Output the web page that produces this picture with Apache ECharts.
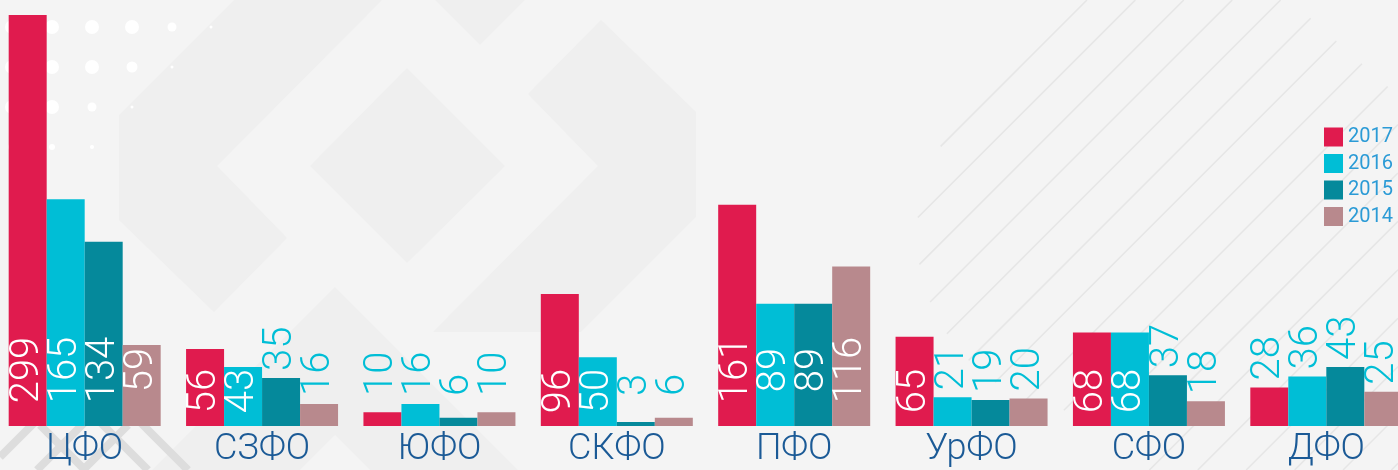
<!DOCTYPE html>
<html>
<head>
<meta charset="utf-8">
<script src="https://cdn.jsdelivr.net/npm/echarts@6/dist/echarts.min.js"></script>
<style>
html,body{margin:0;padding:0;background:#f4f4f4;overflow:hidden;}
#chart{width:1419px;height:470px;margin-left:-4px;}
</style>
</head>
<body>
<div id="chart"></div>
<script>
// ---- data ----
const categories = ['ЦФО', 'СЗФО', 'ЮФО', 'СКФО', 'ПФО', 'УрФО', 'СФО', 'ДФО'];
const years = ['2017', '2016', '2015', '2014'];
const values2017 = [299, 56, 10, 96, 161, 65, 68, 28];
const values2016 = [165, 43, 16, 50, 89, 21, 68, 36];
const values2015 = [134, 35, 6, 3, 89, 19, 37, 43];
const values2014 = [59, 16, 10, 6, 116, 20, 18, 25];

// which value labels sit inside their bar (1) or above it (0)
const inside2017 = [1, 1, 0, 1, 1, 1, 1, 0];
const inside2016 = [1, 1, 0, 1, 1, 0, 1, 0];
const inside2015 = [1, 0, 0, 0, 1, 0, 0, 0];
const inside2014 = [1, 0, 0, 0, 1, 0, 0, 0];

const colors = ['#E01B4E', '#00BED6', '#05899B', '#B8898D'];
const outsideColor = '#00BED6';
const valueFont = 'Roboto, "DejaVu Sans Condensed", sans-serif';
const valueSize = 40;

const seriesValues = [values2017, values2016, values2015, values2014];
const seriesInside = [inside2017, inside2016, inside2015, inside2014];

const cv = document.createElement('canvas').getContext('2d');
cv.font = '300 ' + valueSize + 'px ' + valueFont;
function textLen(s) { return cv.measureText(s).width; }

function groupMax(i) {
  return Math.max.apply(null, seriesValues.map(function (a) { return a[i]; }));
}

function makeData(vals, ins, topPx) {
  return vals.map(function (v, i) {
    const inside = ins[i] === 1;
    let label;
    if (inside) {
      const centre = groupMax(i) >= 150 ? 56 : 35;
      label = { position: 'insideBottom', distance: Math.max(8, centre - textLen(String(v)) / 2), color: '#ffffff' };
    } else {
      const barTop = topPx ? topPx[i] : 0;
      label = { position: 'top', distance: Math.max(7, barTop - 396), color: outsideColor };
    }
    return { value: v, label: label };
  });
}

function buildSeries(tops) {
  return years.map(function (y, k) {
    return {
      name: y,
      type: 'bar',
      barWidth: 38,
      barGap: '0%',
      itemStyle: { color: colors[k] },
      label: {
        show: true,
        rotate: 90,
        align: 'left',
        verticalAlign: 'middle',
        fontFamily: valueFont,
        fontWeight: 300,
        fontSize: valueSize,
        formatter: '{c}'
      },
      data: makeData(seriesValues[k], seriesInside[k], tops ? tops[k] : null)
    };
  });
}

// ---- decorative background (page coordinates, shifted by container offset) ----
const deco = [];
const shapeFill = '#efefef';
function poly(pts, fill) {
  deco.push({ type: 'polygon', silent: true, shape: { points: pts }, style: { fill: fill } });
}
poly([[407, 68], [505, 166], [407, 263], [310, 166]], shapeFill);
poly([[119, 115], [234, 0], [382, 0], [217, 166], [287, 238], [214, 312], [119, 220]], shapeFill);
poly([[696, 217], [581, 332], [433, 332], [598, 166], [528, 94], [601, 20], [696, 112]], shapeFill);
poly([[435, 0], [480, 45], [525, 0]], shapeFill);
poly([[335, 287], [167, 455], [182, 470], [335, 317]], shapeFill);
poly([[335, 287], [518, 470], [370, 470], [335, 435], [300, 470], [152, 470]], shapeFill);
// grey stripes bottom-left
[[0, 457, 35, 422], [37, 470, 85, 422], [83, 470, 128, 425],
 [40, 425, 85, 470], [100, 422, 148, 470], [140, 422, 188, 470]].forEach(function (s) {
  deco.push({ type: 'line', silent: true, shape: { x1: s[0], y1: s[1], x2: s[2], y2: s[3] },
    style: { stroke: '#dddddd', lineWidth: 8 } });
});
// diagonal hairlines on the right
const cx = 1095, cy = 235, r = 178;
for (let c = 1087; c < 1398 + 470; c += 48.4) {
  let x1, y1;
  const d = (cx + cy - c) / Math.SQRT2;
  if (Math.abs(d) < r) {
    const t = Math.sqrt(r * r - d * d);
    const fx = cx - d / Math.SQRT2, fy = cy - d / Math.SQRT2;
    x1 = fx - t / Math.SQRT2; y1 = fy + t / Math.SQRT2;
    if (y1 > 470) { y1 = 470; x1 = c - 470; }
  } else { y1 = 470; x1 = c - 470; }
  let ye = Math.max(0, (c - 1290) * 0.47);
  let xe = c - ye;
  if (xe > 1398) { xe = 1398; ye = c - 1398; }
  if (x1 >= xe) continue;
  deco.push({ type: 'line', silent: true, shape: { x1: x1, y1: y1, x2: xe, y2: ye },
    style: { stroke: '#e6e6e6', lineWidth: 1.5 } });
}
// white dots top-left
const dots = [
  [12, 27, 7], [52, 27, 7], [92, 27, 7], [132, 27, 7], [172, 27, 4.5], [211, 27, 1.5],
  [12, 67, 7], [52, 67, 7], [92, 67, 7], [132, 67, 5.5], [172, 67, 1.5],
  [12, 107, 7], [52, 107, 7], [92, 107, 4.5], [132, 107, 1.5],
  [12, 147, 4], [52, 147, 3], [92, 147, 2]
];
dots.forEach(function (p) {
  deco.push({ type: 'circle', silent: true, shape: { cx: p[0], cy: p[1], r: p[2] }, style: { fill: '#ffffff' } });
});

const chart = echarts.init(document.getElementById('chart'), null, { renderer: 'canvas' });
chart.setOption({
  backgroundColor: '#f4f4f4',
  animation: false,
  graphic: [{ type: 'group', x: 4, y: 0, z: -10, silent: true, children: deco }],
  legend: {
    orient: 'vertical',
    left: 1323,
    top: 122,
    itemWidth: 19,
    itemHeight: 19,
    itemGap: 6.5,
    icon: 'rect',
    textStyle: { color: '#2B9BD6', fontSize: 20, fontFamily: 'Roboto, sans-serif', padding: [2, 0, 0, 0] },
    data: years
  },
  grid: { left: 0, width: 1419, top: 15, bottom: 44, containLabel: false },
  xAxis: {
    type: 'category',
    data: categories,
    axisLine: { show: false },
    axisTick: { show: false },
    axisLabel: {
      color: '#1B5A96',
      fontSize: 36,
      fontFamily: 'Roboto, sans-serif',
      fontWeight: 300,
      margin: 6,
      interval: 0
    }
  },
  yAxis: {
    type: 'value',
    min: 0,
    max: 299,
    show: false,
    splitLine: { show: false }
  },
  series: buildSeries(null)
});
// place outside labels using the real bar tops from the axis scale
const tops = seriesValues.map(function (vals) {
  return vals.map(function (v, i) { return chart.convertToPixel({ gridIndex: 0 }, [i, v])[1]; });
});
chart.setOption({ series: buildSeries(tops) });
</script>
</body>
</html>
